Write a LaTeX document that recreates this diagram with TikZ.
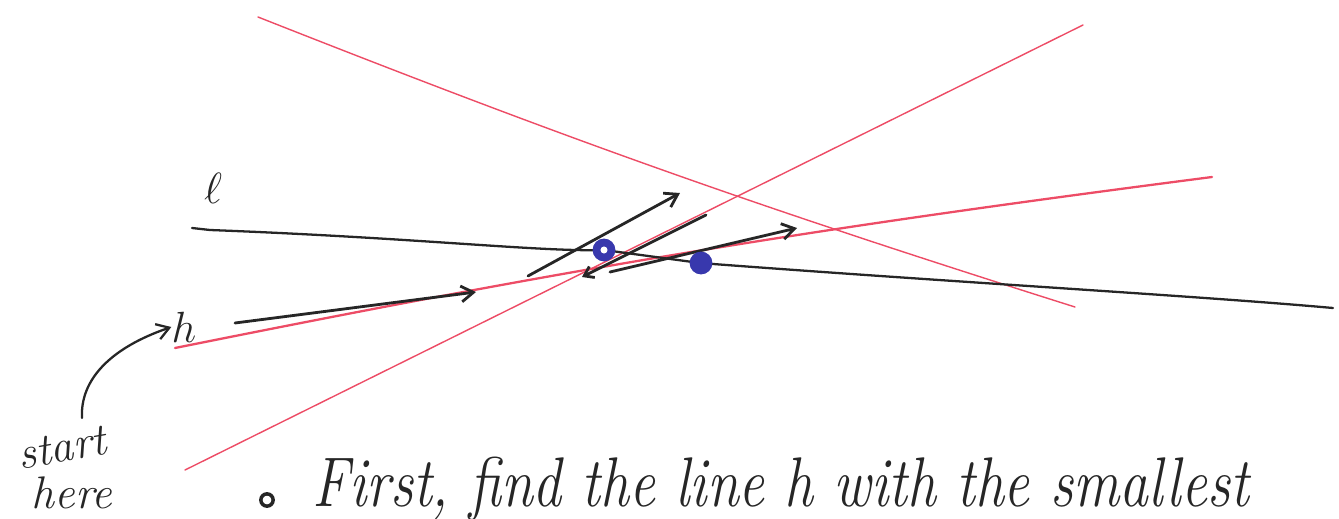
\documentclass[tikz,border=0pt]{standalone}
\definecolor{penred}{rgb}{0.93,0.30,0.40}
\definecolor{penblue}{rgb}{0.22,0.22,0.68}
\definecolor{penblack}{rgb}{0.15,0.15,0.15}
\usepackage{tikz}
\usetikzlibrary{arrows.meta,positioning}

\begin{document}
\begin{tikzpicture}[x=0.02cm, y=-0.02cm,
      redln/.style={color=penred, line width=0.8pt, line cap=round},
      hln/.style={color=penred, line width=1.3pt, line cap=round},
      blkln/.style={color=penblack, line width=1.3pt, line cap=round},
      arr/.style={-{Straight Barb[length=7pt,width=9pt]}, color=penblack,
                  line width=1.6pt, line cap=round},
      dot/.style={circle, fill=penblue, inner sep=0pt, minimum size=13pt},
      lbl/.style={color=penblack, inner sep=0pt, font=\fontsize{26}{30}\selectfont\itshape}
  ]
    \useasboundingbox (0,0) rectangle (1339,518);
    % the red lines
    \coordinate (r1a) at (258,17);   \coordinate (r1b) at (1075,307);
    \coordinate (r2a) at (185,470);  \coordinate (r2b) at (1083,25);
    \coordinate (ha)  at (175,348);  \coordinate (hb)  at (1212,177);
    \draw[redln] (r1a) to[bend right=2] (r1b);
    \draw[redln] (r2a) -- (r2b);
    \draw[hln] (ha) to[bend left=2] (hb);
    % the line l
    \coordinate (la) at (192,228); \coordinate (lb) at (1333,308);
    \draw[blkln] (la) -- (210,230) .. controls (420,238) and (540,252) .. (604,250)
      -- (700,263) .. controls (950,282) and (1200,296) .. (lb);
    % labels
    \node[lbl] (ell) at (213,188) {$\ell$};
    \node[lbl, font=\fontsize{24}{28}\selectfont] (hname) at (184,327) {$h$};
    % walk along the arrows
    \coordinate (a1s) at (235,323); \coordinate (a1e) at (476,292);
    \coordinate (a2s) at (528,276); \coordinate (a2e) at (680,193);
    \coordinate (a3s) at (706,215); \coordinate (a3e) at (582,277);
    \coordinate (a4s) at (610,272); \coordinate (a4e) at (797,228);
    \draw[arr] (a1s) -- (a1e);
    \draw[arr] (a2s) -- (a2e);
    \draw[arr, -{Straight Barb[length=5pt,width=7pt]}] (a3s) -- (a3e);
    \draw[arr] (a4s) -- (a4e);
    % the two points
    \node[dot] (p1) at (604,250) {};
    \node[circle, fill=white, inner sep=0pt, minimum size=4pt] at (p1) {};
    \node[dot] (p2) at (701,263) {};
    % start here
    \node[lbl, rotate=10, font=\fontsize{26}{30}\selectfont\itshape] (start) at (62,448) {start};
    \node[lbl, font=\fontsize{26}{30}\selectfont\itshape] (here) at (72,493) {here};
    \coordinate (sa) at (82,418);
    \draw[arr, line width=1.3pt] (sa) .. controls (80,380) and (110,348) .. (hname.west);
    % the bullet line
    \node[circle, draw=penblack, line width=2pt, inner sep=0pt, minimum size=7pt] (bul) at (267,500) {};
    \node[lbl, anchor=base west, font=\fontsize{40}{44}\selectfont\itshape] (first) at (312,506)
      {\scalebox{0.82}[1]{First, find the line h with the smallest}};
  \end{tikzpicture}
\end{document}
